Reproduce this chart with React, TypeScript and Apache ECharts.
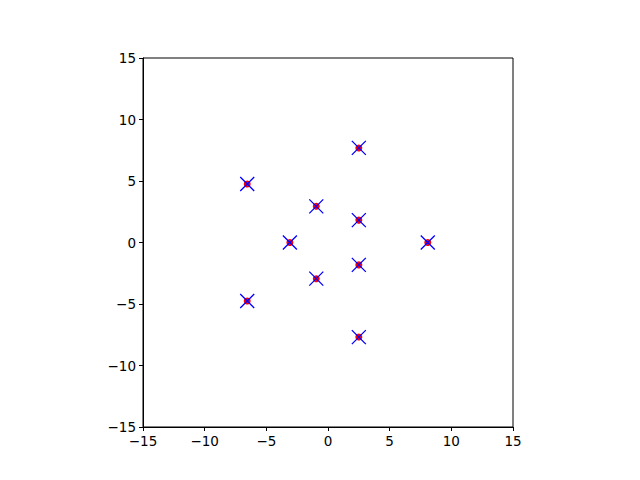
import React, { useEffect, useRef } from "react";
import * as echarts from "echarts";

const xValues = [8.09, 2.5, 2.5, -6.55, -6.55, -3.09, -0.95, -0.95, 2.5, 2.5];
const yValues = [0, 7.69, -7.69, 4.76, -4.76, 0, 2.94, -2.94, 1.82, -1.82];
const axisMin = -15;
const axisMax = 15;
const tickInterval = 5;

const fmt = (v: number) => String(v).replace("-", "\u2212");

export default function App() {
  const ref = useRef<HTMLDivElement>(null);
  useEffect(() => {
    document.body.style.margin = "0";
    const chart = echarts.init(ref.current!, null, { renderer: "svg" });
    const pts = xValues.map((x, i) => [x, yValues[i]]);
    const axisCommon = {
      type: "value" as const,
      min: axisMin,
      max: axisMax,
      interval: tickInterval,
      splitLine: { show: false },
      axisLine: { show: true, onZero: false, lineStyle: { color: "#000", width: 1 } },
      axisTick: { show: true, inside: false, length: 4, lineStyle: { color: "#000" } },
      axisLabel: {
        color: "#000",
        fontSize: 13.5,
        fontFamily: "DejaVu Sans",
        formatter: fmt,
        margin: 7,
      },
    };
    chart.setOption({
      animation: false,
      backgroundColor: "#fff",
      grid: {
        left: 143,
        top: 58,
        width: 370,
        height: 369,
        show: true,
        borderColor: "#000",
        borderWidth: 1,
        containLabel: false,
      },
      xAxis: { ...axisCommon },
      yAxis: { ...axisCommon },
      series: [
        {
          type: "scatter",
          data: pts,
          symbol: "circle",
          symbolSize: 7,
          itemStyle: { color: "#ff0000", opacity: 1 },
          z: 2,
        },
        {
          type: "scatter",
          data: pts,
          symbol: "path://M0,0L10,10M10,0L0,10",
          symbolSize: 14,
          itemStyle: { color: "none", borderColor: "#0000ff", borderWidth: 1.3, opacity: 1 },
          z: 3,
        },
      ],
    });
    return () => chart.dispose();
  }, []);
  return <div ref={ref} style={{ width: 640, height: 480 }} />;
}
